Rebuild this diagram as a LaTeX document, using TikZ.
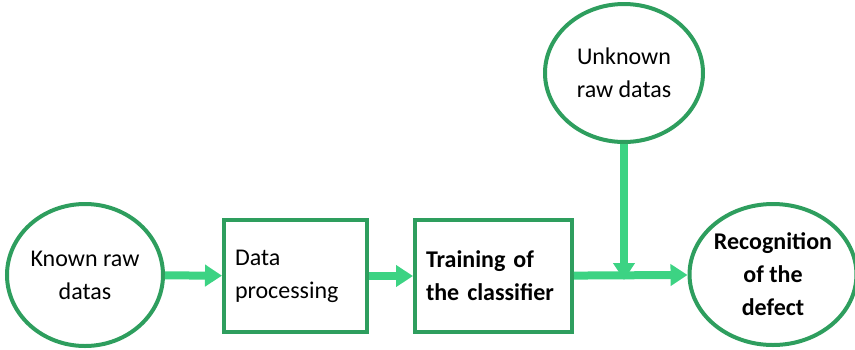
\documentclass[tikz,border=0pt]{standalone}
\usepackage{fontspec}
\setmainfont{Carlito}
\usepackage{tikz}
\usetikzlibrary{arrows.meta,shapes.geometric}
\definecolor{edgegreen}{RGB}{46,158,94}
\definecolor{flowgreen}{RGB}{60,211,131}
\tikzset{>={Triangle[width=21pt,length=17pt]}}
\tikzset{
  rawdata/.style={ellipse, draw=edgegreen, line width=4pt, inner sep=0pt, align=center},
  stepbox/.style={rectangle, draw=edgegreen, line width=4pt, inner xsep=11pt, inner ysep=0pt, align=left},
  flow/.style={->, draw=flowgreen, line width=8pt}
}

\begin{document}
\begin{tikzpicture}[x=1pt, y=-1pt]

  \fontsize{24}{33}\selectfont

  \useasboundingbox (0,0) rectangle (855,349);

  \node[rawdata, minimum width=156pt, minimum height=142pt] (known) at (85,275) {Known raw\\datas};
  \node[stepbox, minimum height=112pt, text width=121pt] (proc) at (295.5,276) {Data\\processing};
  \node[stepbox, minimum height=112pt, text width=135pt, font=\bfseries] (train) at (493.5,276) {Training of\\the classifier\\[7pt]};
  \node[rawdata, minimum width=158pt, minimum height=138pt] (unknown) at (624,73) {Unknown\\raw datas};
  \node[rawdata, minimum width=156pt, minimum height=141pt, font=\bfseries] (recog) at (773,274.5) {Recognition\\of the\\defect};

  \coordinate (join) at (unknown.south |- train.east);

  \draw[flow] (known) -- (proc);
  \draw[flow] (proc) -- (train);
  \draw[flow] (train) -- (recog);
  \draw[flow] (unknown) -- ([yshift=-4pt]join);

\end{tikzpicture}
\end{document}
